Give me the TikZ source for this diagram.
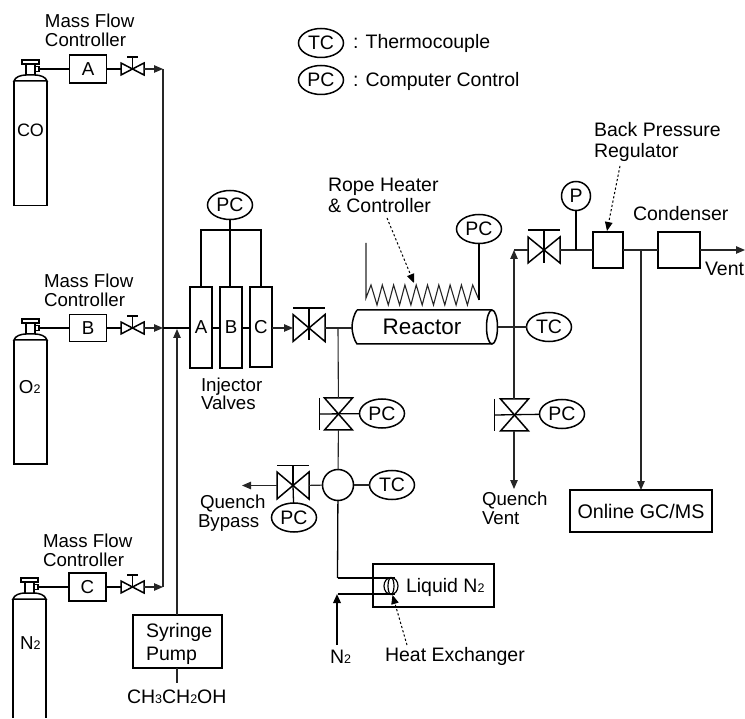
\documentclass[tikz,border=0pt]{standalone}
\usepackage{fontspec}
\setmainfont{Liberation Sans}
\usetikzlibrary{arrows.meta,shapes.geometric,calc}
\newcommand\sbd[1]{{\fontsize{12.5}{12.5}\selectfont #1}}
% flow left-right valve: name, x, y, w, h, cap distance, stem down (cap half width = half of w, or 5 when small)
\newcommand\valveH[8]{%
  \node[vbody,minimum width=#4pt,minimum height=#5pt] (#1) at (#2,#3) {};
  \draw[part] (#1.north west) -- (#1.south east) -- (#1.north east) -- (#1.south west) -- cycle;
  \draw[part] ($(#1.center)+(-#8,-#6)$) -- ($(#1.center)+(#8,-#6)$);
  \draw[pipe] ($(#1.center)+(0,-#6)$) -- ($(#1.center)+(0,#7)$);
}
% flow top-down valve: name, x, y, w, h, cap distance
\newcommand\valveV[6]{%
  \node[vbody,minimum width=#4pt,minimum height=#5pt] (#1) at (#2,#3) {};
  \draw[part] (#1.north west) -- (#1.south east) -- (#1.south west) -- (#1.north east) -- cycle;
  \draw[part] ($(#1.center)+(-#6,-#5/2)$) -- ($(#1.center)+(-#6,#5/2)$);
}
% gas cylinder: name, left x, row y
\newcommand\gasCyl[3]{%
  \draw[part,fill=white] (#2,#3+12) .. controls (#2+1,#3+8) and (#2+7,#3+6) .. (#2+12,#3+6) -- (#2+21,#3+6)
     .. controls (#2+26,#3+6) and (#2+32,#3+8) .. (#2+33,#3+12) -- cycle;
  \draw[part] (#2+12,#3+6) -- (#2+12,#3-5) (#2+21,#3+6) -- (#2+21,#3-5);
  \draw[part] (#2+8,#3-9) rectangle (#2+25,#3-5);
  \draw[part] (#2+21,#3-2.5) rectangle (#2+25,#3+2.5);
  \coordinate (#1) at (#2+25,#3);
}
\tikzset{
  x=1pt,y=-1pt,
  part/.style={line width=1.5pt,line join=miter},
  pipe/.style={line width=1.3pt},
  thin pipe/.style={line width=1.1pt,black!85},
  heavy/.style={line width=1.8pt},
  vbody/.style={inner sep=0pt,outer sep=0pt,draw=none},
  flow/.style={-{Triangle[length=9pt,width=7.5pt]}},
  leader/.style={line width=1pt,dash pattern=on 2.2pt off 2.2pt,-{Triangle[length=9pt,width=7.5pt]}},
  mybox/.style={draw,line width=1.6pt,inner sep=0pt,outer sep=0pt,font=\fontsize{18.7}{20}\selectfont},
  oval/.style={ellipse,draw,line width=1.5pt,inner sep=0pt,outer sep=0pt,minimum width=45pt,minimum height=29pt,font=\fontsize{19.5}{20}\selectfont},
  lblA/.style={inner sep=0pt,outer sep=0pt,anchor=base west,align=left,font=\fontsize{18.7}{19}\selectfont},
  lblB/.style={inner sep=0pt,outer sep=0pt,anchor=base west,align=left,font=\fontsize{19.5}{21}\selectfont},
}
\begin{document}
\begin{tikzpicture}
\useasboundingbox (0,0) rectangle (745,719);

% ---- gas cylinders
\gasCyl{cylA}{14}{69}
\gasCyl{cylB}{14}{328}
\gasCyl{cylC}{13}{587}
\draw[part] (14,81) -- (14,205.5) -- (47,205.5) -- (47,81);
\draw[part] (14,340) -- (14,464) -- (47,464) -- (47,340);
\draw[part] (13,599) -- (13,718) (46,599) -- (46,718);
\node[lblA,font=\fontsize{18}{19}\selectfont] (tCO) at (17,137) {CO};
\node[lblA,font=\fontsize{18.7}{19}\selectfont] (tO) at (19,394) {O\sbd{2}};
\node[lblA,font=\fontsize{18.7}{19}\selectfont] (tN) at (20,649) {N\sbd{2}};

% ---- mass flow controllers
\node[mybox,minimum width=37pt,minimum height=28pt] (mfcA) at (88,69) {A};
\node[mybox,minimum width=37pt,minimum height=27pt] (mfcB) at (88,328) {B};
\node[mybox,minimum width=37pt,minimum height=28pt] (mfcC) at (87.5,587) {C};
\node[lblA] (mA) at (45,47) {Mass Flow\\Controller};
\node[lblA] (mB) at (44,307) {Mass Flow\\Controller};
\node[lblA] (mC) at (43,566) {Mass Flow\\Controller};

% ---- small valves
\valveH{sA}{132.5}{69}{23}{12}{12}{0}{5.5}
\valveH{sB}{132.5}{328}{23}{12}{12}{0}{5.5}
\valveH{sC}{132.5}{587}{23}{12}{12}{0}{5.5}

\draw[pipe] (cylA) -- (mfcA);
\draw[pipe] (cylB) -- (mfcB);
\draw[pipe] (cylC) -- (mfcC);
\draw[pipe] (mfcA) -- (sA);
\draw[pipe] (mfcB) -- (sB);
\draw[pipe] (mfcC) -- (sC);

% ---- manifold
\coordinate (mTop) at (163,69);
\coordinate (mMid) at (163,328);
\coordinate (mBot) at (163,587);
\draw[thin pipe] (mTop) -- (mBot);
\draw[thin pipe,flow] (sA) -- (mTop);
\draw[thin pipe,flow] (sB) -- (mMid);
\draw[thin pipe,flow] (sC) -- (mBot);

% ---- injector valves
\node[mybox,minimum width=22pt,minimum height=81pt] (injA) at (201,327.5) {A};
\node[mybox,minimum width=22pt,minimum height=81pt] (injB) at (231,327.5) {B};
\node[mybox,minimum width=22pt,minimum height=80pt] (injC) at (261,327) {C};
\node[lblA] (tInj) at (201,410) {Injector\\Valves};
\node[oval] (pcInj) at (230,205) {PC};
\coordinate (busC) at (230,230);
\draw[pipe] (pcInj) -- (injB.north -| pcInj);
\draw[pipe] (injA.north) -- (injA.north |- busC) -- (injC.north |- busC) -- (injC.north);
\draw[pipe] (mMid) -- (injA.west |- mMid);
\draw[pipe] (injA.east |- mMid) -- (injB.west |- mMid);
\draw[pipe] (injB.east |- mMid) -- (injC.west |- mMid);

% ---- syringe pump
\node[mybox,minimum width=89pt,minimum height=53pt] (pump) at (177.5,641.5) {};
\node[lblB,font=\fontsize{19.5}{22.5}\selectfont] (tPump) at (146,660) {Syringe\\Pump};
\coordinate (etoh) at (177,683);
\coordinate (pumpIn) at (177,329);
\draw[thin pipe,flow] (pump.north -| pumpIn) -- (pumpIn);
\draw[thin pipe] (pump.south -| etoh) -- (etoh);
\node[lblB] (tEtoh) at (127,703) {CH\sbd{3}CH\sbd{2}OH};

% ---- reactor feed valve and reactor
\valveH{vFeed}{309}{328}{32}{27}{20}{12}{16}
\draw[thin pipe,flow] (injC.east |- mMid) -- (vFeed);
\node[vbody,minimum width=146pt,minimum height=34pt] (reactor) at (425,327) {};
\node[inner sep=0pt,anchor=base,font=\fontsize{22.5}{23}\selectfont] (tReactor) at (422,335) {Reactor};
\draw[part] (357,310) .. controls (354,314) and (352,322) .. (352,327) .. controls (352,332) and (354,340) .. (357,344) -- (492,344) (492,310) -- (357,310);
\draw[part] (492,327) ellipse [x radius=5.5,y radius=17];
\draw[thin pipe] (vFeed) -- (reactor.west |- vFeed);
\node[oval] (tcR) at (549,327) {TC};
\draw[thin pipe] (reactor.east) -- (tcR);

% ---- rope heater
\coordinate (hL) at (366,298);
\coordinate (hLtop) at (366,243);
\coordinate (hR) at (479,300);
\node[oval] (pcR) at (479,229) {PC};
\draw[thin pipe] (hLtop) -- (hL) \foreach \k in {0,...,8} { -- ({371+\k*11.3},285) -- ({377+\k*11.3},305)} -- (472.7,285) -- (hR);
\draw[pipe] (pcR) -- (hR);
\node[lblB] (tRope) at (328,213) {Rope Heater\\\& Controller};
\coordinate (rA) at (387,218);
\coordinate (rB) at (414,283);
\draw[leader] (rA) -- (rB);

% ---- quench line
\coordinate (tee) at (338,328);
\valveV{vQ}{338.5}{414}{28}{32}{19}
\node[oval] (pcQ) at (382,413.5) {PC};
\draw[thin pipe] (tee) -- (vQ);
\draw[pipe] (vQ.center) ++(-19,0) -- (pcQ);
\node[circle,draw,line width=1.5pt,inner sep=0pt,outer sep=0pt,minimum size=31pt] (mix) at (338,485) {};
\draw[thin pipe] (vQ) -- (mix);
\node[oval] (tcM) at (392,485) {TC};
\draw[thin pipe] (mix) -- (tcM);
\valveH{vB}{293}{485.5}{32}{27}{20}{0}{16}
\node[oval] (pcB) at (294,517.5) {PC};
\draw[pipe] (vB.center) -- (pcB);
\draw[thin pipe] (mix) -- (vB);
\coordinate (bypassEnd) at (242,485.5);
\draw[thin pipe,flow] (vB) -- (bypassEnd);
\node[lblA] (tBypass) at (198,527) {\hspace{2pt}Quench\\Bypass};

% ---- heat exchanger
\node[mybox,minimum width=121pt,minimum height=43pt] (ln2) at (433.5,585.5) {};
\node[lblB] (tLN) at (406,592) {Liquid N\sbd{2}};
\draw[line width=1.2pt] (391,586) ellipse [x radius=7,y radius=8.5];
\draw[line width=1.2pt] (391,586) ellipse [x radius=3,y radius=8.5];
\coordinate (hxA) at (395,578);
\coordinate (hxB) at (395,594);
\coordinate (hxC) at (337.5,578);
\coordinate (hxD) at (337.5,594);
\draw[line width=1.3pt] (mix) -- (hxC);
\draw[heavy] (hxC) -- (hxA);
\draw[heavy] (hxD) -- (hxB);
\coordinate (n2in) at (337,645);
\draw[heavy,flow] (n2in) -- (337,594);
\node[lblB] (tN2) at (330,663) {N\sbd{2}};
\node[lblB] (tHX) at (385,661) {Heat Exchanger};
\coordinate (hxL) at (407,645);
\coordinate (hxT) at (392.5,595);
\draw[leader] (hxL) -- (hxT);

% ---- vent valves, right side
\valveV{vV}{514.5}{415}{28}{32}{20}
\node[oval] (pcV) at (562,414) {PC};
\draw[pipe] (vV.center) ++(-20,0) -- (pcV);
\coordinate (upTip) at (514,250);
\draw[thin pipe,flow] (514,399) -- (upTip);
\coordinate (ventEnd) at (514,489);
\draw[thin pipe,flow] (514,431) -- (ventEnd);
\node[lblA] (tQV) at (482,524.5) {Quench\\Vent};

\valveH{vTop}{544}{250}{32}{26}{20}{13}{16}
\draw[thin pipe] (upTip) -- (vTop);
\node[mybox,minimum width=30pt,minimum height=36pt] (bpr) at (608,250) {};
\node[mybox,minimum width=42pt,minimum height=36pt] (cond) at (679,250) {};
\draw[thin pipe] (vTop) -- (bpr);
\draw[thin pipe] (bpr) -- (cond);
\node[circle,draw,line width=1.5pt,inner sep=0pt,outer sep=0pt,minimum size=29pt,font=\fontsize{19.5}{20}\selectfont] (pG) at (576,196) {P};
\draw[heavy] (pG) -- (pG |- bpr);
\coordinate (ventOut) at (745,250);
\draw[thin pipe,flow] (cond) -- (ventOut);
\node[lblB] (tBP) at (594,158) {Back Pressure\\Regulator};
\node[lblB] (tCond) at (633,221) {Condenser};
\node[lblB] (tVent) at (705,276) {Vent};
\coordinate (bA) at (620,166);
\coordinate (bB) at (607,231);
\draw[leader] (bA) -- (bB);

% ---- GC/MS
\node[mybox,minimum width=142pt,minimum height=42pt,font=\fontsize{19.7}{20}\selectfont] (gc) at (641,511) {Online GC/MS};
\coordinate (gcT) at (641,250);
\draw[thin pipe,flow] (gcT) -- (gc.north);

% ---- legend
\node[oval] (lgT) at (321,43) {TC};
\node[oval] (lgP) at (321,80) {PC};
\node[lblB] (lgTt) at (353,49) {: Thermocouple};
\node[lblB] (lgPt) at (353,87) {: Computer Control};
\end{tikzpicture}
\end{document}
